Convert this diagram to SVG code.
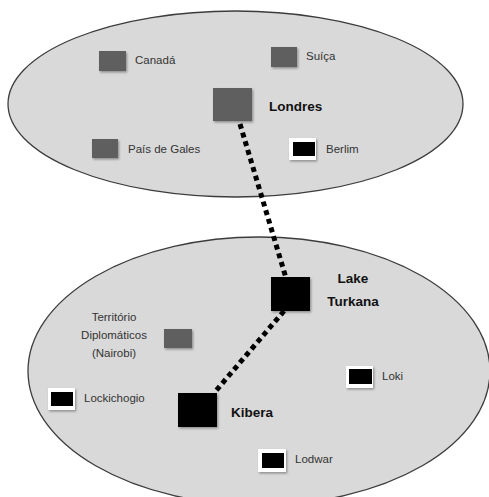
<svg xmlns="http://www.w3.org/2000/svg" width="489" height="497" viewBox="0 0 489 497">
<defs>
<filter id="sh" x="-20%" y="-20%" width="150%" height="150%">
<feDropShadow dx="1.2" dy="1.5" stdDeviation="0.8" flood-color="#000" flood-opacity="0.35"/>
</filter>
</defs>
<style>
.region{fill:#d9d9d9;stroke:#3c3c3c;stroke-width:1.3}
.gray{fill:#5e5e5e;filter:url(#sh)}
.blk{fill:#000;filter:url(#sh)}
.wht{fill:#fff;filter:url(#sh)}
.in{fill:#000}
.lbl{font-family:"Liberation Sans",Arial,sans-serif;font-size:11.5px;fill:#333}
.big{font-family:"Liberation Sans",Arial,sans-serif;font-size:13.5px;font-weight:bold;fill:#111}
.dot{fill:none;stroke:#000;stroke-width:5;stroke-dasharray:5 4}
</style>
<rect width="489" height="497" fill="#fff"/>
<g id="regions">
<ellipse class="region" cx="235.5" cy="104" rx="227.5" ry="93"/>
<ellipse class="region" cx="259" cy="371" rx="231" ry="134"/>
</g>
<g id="connectors">
<line class="dot" x1="240" y1="124" x2="286" y2="278"/>
<line class="dot" x1="284" y1="311" x2="214" y2="393"/>
</g>
<g id="canada"><rect class="gray" x="99" y="51" width="27" height="20"/><text class="lbl" x="135" y="64">Canadá</text></g>
<g id="suica"><rect class="gray" x="271" y="47" width="26" height="20"/><text class="lbl" x="306" y="60">Suíça</text></g>
<g id="londres"><rect class="gray" x="213" y="88" width="39" height="33"/><text class="big" x="269" y="111">Londres</text></g>
<g id="gales"><rect class="gray" x="92" y="139" width="26" height="19"/><text class="lbl" x="128" y="153">País de Gales</text></g>
<g id="berlim"><rect class="wht" x="289" y="138" width="27" height="22"/><rect class="in" x="293" y="142" width="22" height="14"/><text class="lbl" x="326" y="153">Berlim</text></g>
<g id="turkana"><rect class="blk" x="271" y="277" width="39" height="34"/><text class="big" x="353" y="283" text-anchor="middle">Lake</text><text class="big" x="353" y="306" text-anchor="middle">Turkana</text></g>
<g id="nairobi"><rect class="gray" x="164" y="329" width="28" height="19"/><text class="lbl" x="114" y="321" text-anchor="middle">Território</text><text class="lbl" x="114" y="339" text-anchor="middle">Diplomáticos</text><text class="lbl" x="114" y="357" text-anchor="middle">(Nairobi)</text></g>
<g id="lockichogio"><rect class="wht" x="48" y="388" width="27" height="22"/><rect class="in" x="51" y="392" width="22" height="14"/><text class="lbl" x="84" y="402">Lockichogio</text></g>
<g id="kibera"><rect class="blk" x="178" y="393" width="39" height="34"/><text class="big" x="231" y="417">Kibera</text></g>
<g id="loki"><rect class="wht" x="346" y="366" width="27" height="22"/><rect class="in" x="349" y="369" width="23" height="15"/><text class="lbl" x="382" y="380">Loki</text></g>
<g id="lodwar"><rect class="wht" x="258" y="449" width="28" height="23"/><rect class="in" x="262" y="453" width="22" height="15"/><text class="lbl" x="295" y="463">Lodwar</text></g>
</svg>
